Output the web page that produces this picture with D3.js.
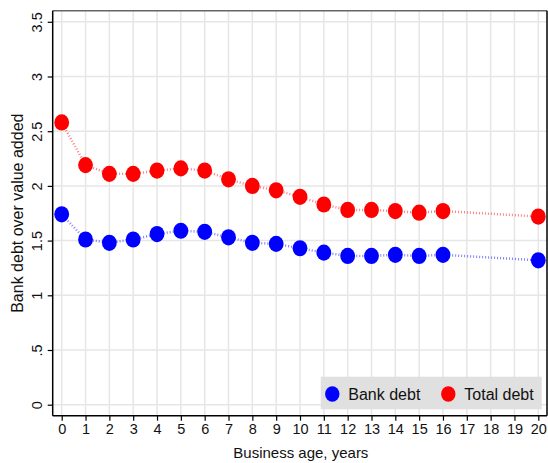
<!DOCTYPE html>
<html>
<head>
<meta charset="utf-8">
<script src="https://cdn.jsdelivr.net/npm/d3@7"></script>
<style>
  body { margin: 0; background: #fff; }
  text { font-family: "Liberation Sans", Arial, sans-serif; fill: #111; }
</style>
</head>
<body>
<script>
/* ------------------------------- Data ------------------------------- */
const ages = [0, 1, 2, 3, 4, 5, 6, 7, 8, 9, 10, 11, 12, 13, 14, 15, 16, 20];
const bankDebt = [1.74, 1.51, 1.48, 1.51, 1.56, 1.59, 1.58, 1.53, 1.48, 1.47, 1.43, 1.39, 1.36, 1.36, 1.37, 1.36, 1.37, 1.32];
const totalDebt = [2.58, 2.19, 2.11, 2.11, 2.14, 2.16, 2.14, 2.06, 2.00, 1.96, 1.90, 1.83, 1.78, 1.78, 1.77, 1.755, 1.77, 1.72];
const xTicks = d3.range(0, 21);
const yTicks = [0, 0.5, 1, 1.5, 2, 2.5, 3, 3.5];
const yTickLabels = ["0", ".5", "1", "1.5", "2", "2.5", "3", "3.5"];
const seriesNames = ["Bank debt", "Total debt"];
const colors = ["#0000ff", "#ff0000"];

/* ------------------------------ Layout ------------------------------ */
const width = 548, height = 463;
const frame = { left: 52.7, right: 547, top: 10.7, bottom: 415.7 };

const svg = d3.select("body").append("svg").attr("width", width).attr("height", height);

const x = d3.scaleLinear().domain([0, 20]).range([61.7, 538.3]);
const y = d3.scaleLinear().domain([0, 3.5]).range([404.7, 21.8]);

// gridlines
svg.append("g").selectAll("line").data(xTicks).enter().append("line")
    .attr("x1", d => x(d)).attr("x2", d => x(d))
    .attr("y1", frame.top).attr("y2", frame.bottom)
    .attr("stroke", "#e6e6e6").attr("stroke-width", 1.5);
svg.append("g").selectAll("line").data(yTicks).enter().append("line")
    .attr("x1", frame.left).attr("x2", frame.right)
    .attr("y1", d => y(d)).attr("y2", d => y(d))
    .attr("stroke", "#e6e6e6").attr("stroke-width", 1.5);

// frame
svg.append("line").attr("x1", frame.left).attr("x2", frame.right)
    .attr("y1", frame.top).attr("y2", frame.top).attr("stroke", "#666").attr("stroke-width", 1.5);
svg.append("line").attr("x1", frame.right).attr("x2", frame.right)
    .attr("y1", frame.top).attr("y2", frame.bottom).attr("stroke", "#000").attr("stroke-width", 1.5);

// axes
const xAxis = svg.append("g")
    .attr("transform", `translate(0,${frame.bottom})`)
    .call(d3.axisBottom(x).tickValues(xTicks).tickSize(5).tickPadding(3).tickSizeOuter(0));
xAxis.select(".domain").remove();
xAxis.append("line").attr("x1", frame.left).attr("x2", frame.right).attr("stroke", "#000").attr("stroke-width", 1.5);
xAxis.selectAll(".tick line").attr("stroke", "#000").attr("stroke-width", 1.2);
xAxis.selectAll(".tick text").attr("font-size", "14.5px").attr("fill", "#111")
    .attr("font-family", "Liberation Sans, Arial, sans-serif");

const yAxis = svg.append("g")
    .attr("transform", `translate(${frame.left},0)`)
    .call(d3.axisLeft(y).tickValues(yTicks).tickFormat((d, i) => yTickLabels[i]).tickSize(5).tickSizeOuter(0));
yAxis.select(".domain").remove();
yAxis.append("line").attr("y1", frame.top).attr("y2", frame.bottom).attr("stroke", "#000").attr("stroke-width", 1.5);
yAxis.selectAll(".tick line").attr("stroke", "#000").attr("stroke-width", 1.2);
yAxis.selectAll(".tick text")
    .attr("x", null).attr("dy", null)
    .attr("font-size", "14.5px").attr("fill", "#111")
    .attr("font-family", "Liberation Sans, Arial, sans-serif")
    .attr("text-anchor", "middle")
    .attr("transform", "translate(-11,0) rotate(-90)");

// axis titles
svg.append("text").attr("x", (frame.left + frame.right) / 2 + 1).attr("y", 458)
    .attr("text-anchor", "middle").attr("font-size", "15px").text("Business age, years");
svg.append("text").attr("transform", `translate(23,${(frame.top + frame.bottom) / 2}) rotate(-90)`)
    .attr("text-anchor", "middle").attr("font-size", "16px").text("Bank debt over value added");

/* ------------------------------ Series ------------------------------ */
const series = [bankDebt, totalDebt];
const line = d3.line().x((d, i) => x(ages[i])).y(d => d);

series.forEach((vals, s) => {
    svg.append("path")
        .attr("d", line(vals.map(v => y(v))))
        .attr("fill", "none")
        .attr("stroke", colors[s])
        .attr("stroke-opacity", 0.5)
        .attr("stroke-width", 2.5)
        .attr("stroke-dasharray", "1,2");
});
series.forEach((vals, s) => {
    svg.append("g").selectAll("ellipse").data(vals).enter().append("ellipse")
        .attr("cx", (d, i) => x(ages[i]))
        .attr("cy", d => y(d))
        .attr("rx", 7.4).attr("ry", 8.1)
        .attr("fill", colors[s]);
});

/* ------------------------------ Legend ------------------------------ */
const legend = svg.append("g");
legend.append("rect").attr("x", 320.7).attr("y", 376.7).attr("width", 221).attr("height", 32.6)
    .attr("fill", "#e0e0e0");
const legendX = [332.3, 448.3];
seriesNames.forEach((name, s) => {
    legend.append("ellipse").attr("cx", legendX[s]).attr("cy", 394)
        .attr("rx", 7.2).attr("ry", 7.8).attr("fill", colors[s]);
    legend.append("text").attr("x", legendX[s] + 16).attr("y", 400)
        .attr("font-size", "16px").text(name);
});
</script>
</body>
</html>
